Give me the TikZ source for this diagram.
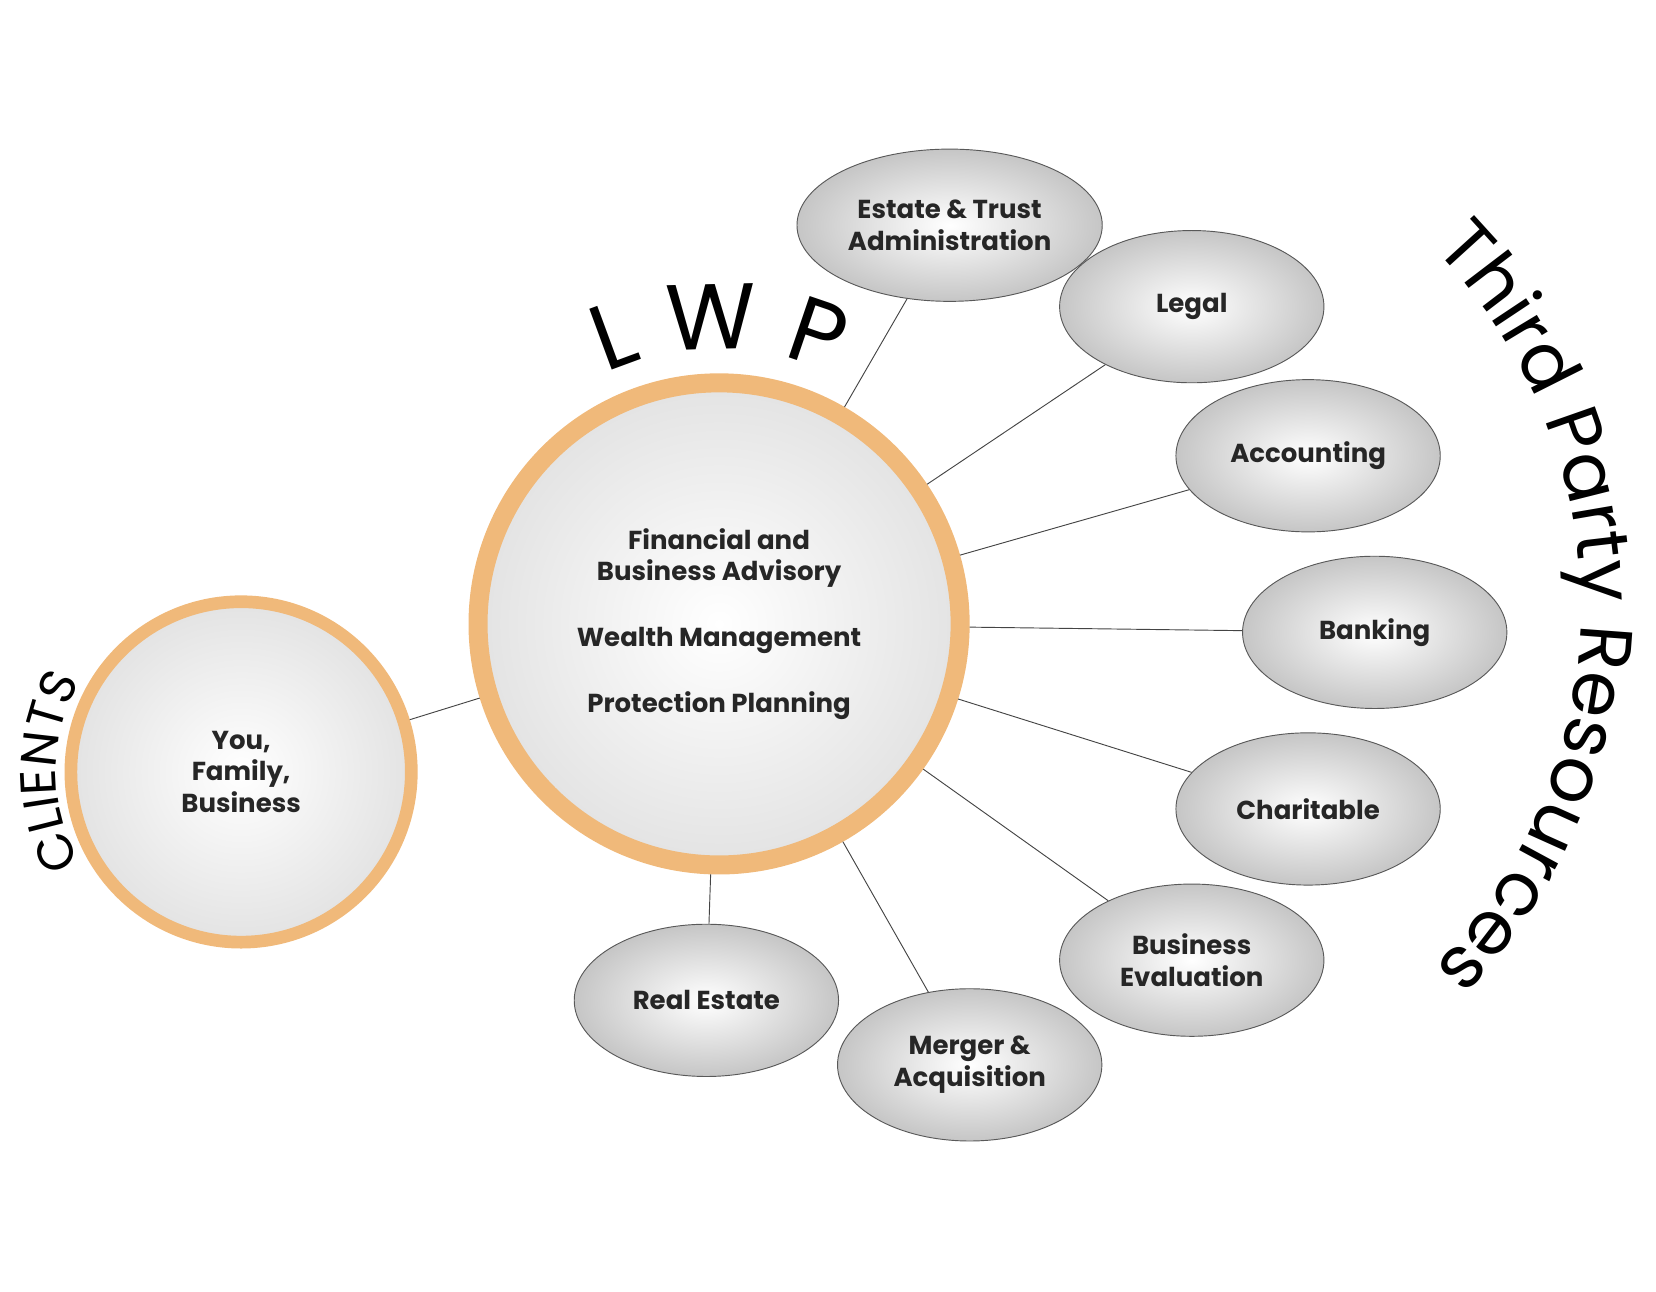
\documentclass[tikz,border=0pt]{standalone}
\usepackage{fontspec}
\setmainfont{Poppins}
\usetikzlibrary{decorations.text,shapes.geometric}
\definecolor{ringorange}{HTML}{F0B97A}
\definecolor{linegray}{HTML}{444444}
\tikzset{
  resource/.style={ellipse,draw=gray!70!black,line width=0.5pt,shading=radial,
    inner color=white,outer color=gray!45,minimum width=5cm,minimum height=2.88cm,
    align=center,font=\fontsize{14}{17}\selectfont\bfseries,text=black!85},
  hub/.style={circle,draw=ringorange,shading=radial,inner color=white,
    outer color=gray!22,align=center,text=black!85},
  link/.style={draw=linegray,line width=0.5pt}
}
\begin{document}
\begin{tikzpicture}[x=0.02cm,y=0.02cm]
  \useasboundingbox (0,70) rectangle (1566,1291);
  \node[hub,line width=0.24cm,minimum size=6.44cm,font=\fontsize{14}{17}\selectfont\bfseries] (clients) at (228,561) {You,\\Family,\\Business};
  \node[hub,line width=0.36cm,minimum size=9.12cm,font=\fontsize{14}{17}\selectfont\bfseries] (lwp) at (680,701)
    {Financial and\\Business Advisory\\[0.65cm]Wealth Management\\[0.65cm]Protection Planning};
  % third party resources
  \node[resource] (estate) at (898,1078) {Estate \& Trust\\Administration};
  \node[resource] (legal) at (1127,1001) {Legal};
  \node[resource] (accounting) at (1237,860) {Accounting};
  \node[resource] (banking) at (1300,693) {Banking};
  \node[resource] (charitable) at (1237,526) {Charitable};
  \node[resource] (evaluation) at (1127,383) {Business\\Evaluation};
  \node[resource] (merger) at (917,284) {Merger \&\\Acquisition};
  \node[resource] (realestate) at (668,345) {Real Estate};
  \path[link] (clients) -- (lwp);
  \foreach \r in {estate,legal,accounting,banking,charitable,evaluation,merger,realestate}
    \path[link] (lwp) -- (\r);
  % curved titles
  \path[decorate,decoration={text along path,text align=center,
      text={|\fontsize{50}{60}\selectfont|L{ }W{ }P}}]
    (680,701) ++(116:5.2cm) arc[start angle=116,end angle=64,radius=5.2cm];
  \path[decorate,decoration={text along path,text align=center,
      text={|\fontsize{40}{48}\selectfont|Third Party Resources}}]
    (1010,716) ++(54:9.7cm) arc[start angle=54,end angle=-54,radius=9.7cm];
  \path[decorate,decoration={text along path,text align=center,
      text={|\fontsize{27}{32}\selectfont|CLIENTS}}]
    (228,561) ++(220:3.5cm) arc[start angle=220,end angle=140,radius=3.5cm];
\end{tikzpicture}
\end{document}
